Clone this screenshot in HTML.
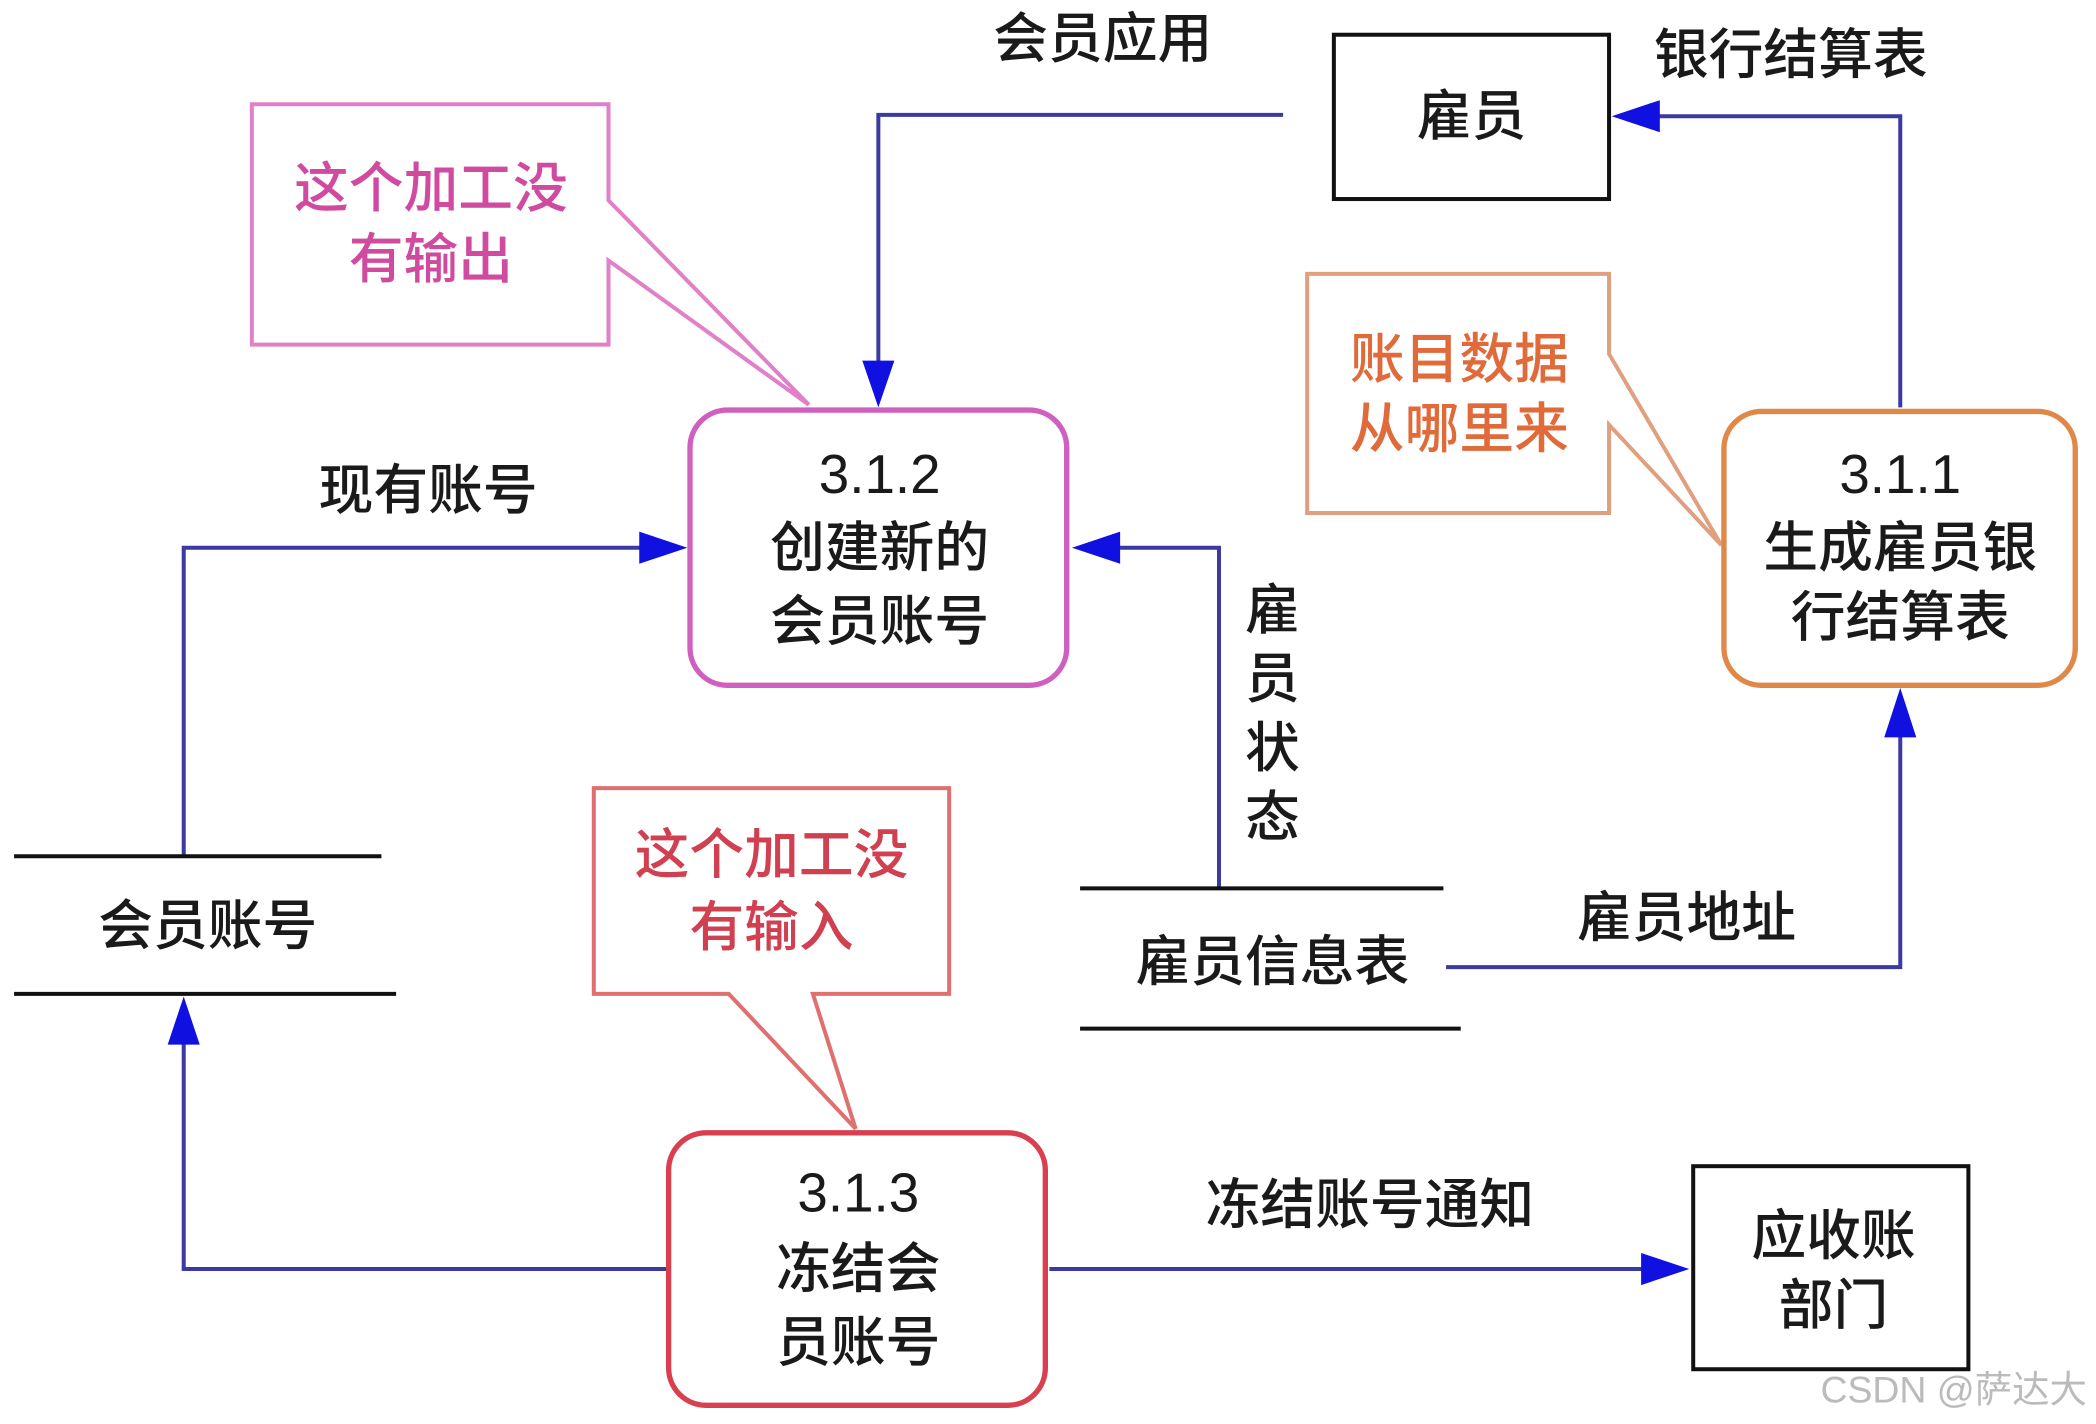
<!DOCTYPE html>
<html><head><meta charset="utf-8"><style>
html,body{margin:0;padding:0;background:#fff;}
svg{display:block}
text{font-family:"Liberation Sans","Noto Sans CJK SC",sans-serif;font-size:41px;text-anchor:middle;fill:#1a1a1a;font-weight:500}
</style></head><body>
<svg width="2096" height="1424" viewBox="0 0 1568 1066" xmlns="http://www.w3.org/2000/svg">
<g fill="none" stroke="#3a3aa0" stroke-width="3">
<polyline points="960,86 657,86 657,272"/>
<polyline points="1422,305 1422,87 1240,87"/>
<polyline points="137,640 137,410 480,410"/>
<polyline points="500,950 137,950 137,780"/>
<polyline points="912,665 912,410 836,410"/>
<polyline points="1082,724 1422,724 1422,550"/>
<polyline points="785,950 1230,950"/>
</g>
<g fill="#1010e0">
<polygon points="657,305 645,270 669,270"/>
<polygon points="1206,87 1242,75 1242,99"/>
<polygon points="514,410 478,398 478,422"/>
<polygon points="137,746 125,782 149,782"/>
<polygon points="802,410 838,398 838,422"/>
<polygon points="1422,515 1410,552 1434,552"/>
<polygon points="1264,950 1228,938 1228,962"/>
</g>
<rect x="998" y="26" width="206" height="123" fill="none" stroke="#111" stroke-width="3"/>
<text x="1101" y="101">雇员</text>
<rect x="1267" y="873" width="206" height="152" fill="none" stroke="#111" stroke-width="3"/>
<text x="1372" y="939">应收账</text>
<text x="1372" y="991">部门</text>
<text x="825" y="43">会员应用</text>
<text x="1340" y="55">银行结算表</text>
<text x="320" y="381">现有账号</text>
<text x="1262" y="701">雇员地址</text>
<text x="1025" y="916">冻结账号通知</text>
<text x="952" y="471">雇</text>
<text x="952" y="522">员</text>
<text x="952" y="574">状</text>
<text x="952" y="626">态</text>
<g stroke="#111" stroke-width="3">
<line x1="10" y1="641" x2="285" y2="641"/><line x1="10" y1="744" x2="296" y2="744"/>
<line x1="808" y1="665" x2="1080" y2="665"/><line x1="808" y1="770" x2="1093" y2="770"/>
</g>
<text x="155" y="707">会员账号</text>
<text x="952" y="734">雇员信息表</text>
<path d="M455,150 L455,78 L188,78 L188,258 L455,258 L455,195 L605,303 Z" fill="#fff" stroke="#e080c8" stroke-width="3"/>
<text x="322" y="155" style="fill:#d04aa0">这个加工没</text>
<text x="322" y="208" style="fill:#d04aa0">有输出</text>
<path d="M1204,265 L1204,205 L978,205 L978,384 L1204,384 L1204,318 L1288,408 Z" fill="#fff" stroke="#e0a080" stroke-width="3"/>
<text x="1092" y="283" style="fill:#e06a3a">账目数据</text>
<text x="1092" y="335" style="fill:#e06a3a">从哪里来</text>
<path d="M545,744 L444,744 L444,590 L710,590 L710,744 L608,744 L640,845 Z" fill="#fff" stroke="#e07070" stroke-width="3"/>
<text x="577" y="654" style="fill:#d04050">这个加工没</text>
<text x="577" y="708" style="fill:#d04050">有输入</text>
<rect x="516" y="307" width="282" height="206" rx="28" fill="#fff" stroke="#d060c0" stroke-width="4"/>
<text x="658" y="369">3.1.2</text>
<text x="658" y="424">创建新的</text>
<text x="658" y="479">会员账号</text>
<rect x="1290" y="308" width="263" height="205" rx="28" fill="#fff" stroke="#e08848" stroke-width="4"/>
<text x="1422" y="369">3.1.1</text>
<text x="1422" y="424">生成雇员银</text>
<text x="1422" y="476">行结算表</text>
<rect x="500" y="848" width="282" height="204" rx="28" fill="#fff" stroke="#d84050" stroke-width="4"/>
<text x="642" y="907">3.1.3</text>
<text x="642" y="964">冻结会</text>
<text x="642" y="1019">员账号</text>
<text x="1462" y="1050" style="fill:#bbb;font-size:28px;font-weight:normal">CSDN @萨达大</text>
</svg>
</body></html>
